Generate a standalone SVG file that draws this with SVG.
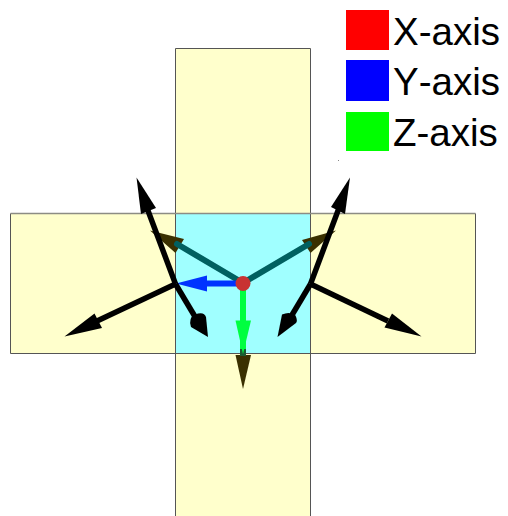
<svg xmlns="http://www.w3.org/2000/svg" width="508" height="516" viewBox="0 0 508 516">
<style>
.face{fill:#ffffcc;stroke:none}
.edge{fill:none;stroke:#555;stroke-width:1}
.k{stroke:#000;stroke-width:5.500;fill:none}
.kh{fill:#000}
.t{stroke:#006060;stroke-width:6;fill:none;stroke-linecap:round}
.o{fill:#3a3000}
.lab{font-family:"Liberation Sans",Arial,sans-serif;font-size:38.500px;font-kerning:none;fill:#000}
</style>
<rect width="508" height="516" fill="#fff"/>
<g id="faces">
<rect class="face" x="175.5" y="48.5" width="135" height="468"/>
<rect class="face" x="10.5" y="213.5" width="465" height="140"/>
<rect x="175.5" y="213.5" width="135" height="140" fill="#a0ffff"/>
<path class="edge" d="M175.500 516V48.500H310.500V516M175.500 353.500H310.500M175.500 213.500V353.500M310.500 213.500V353.500M175.500 353.500H10.500V213.500M310.500 353.500H475.500V213.500"/>
<path d="M10.500 213.500H475.500" fill="none" stroke="#8c8c84" stroke-width="1.500"/>
</g>
<g id="connectors">
<path class="o" d="M150 230.500L184 239L175.500 253Z"/>
<path class="o" d="M336 230.500L302 240L310.500 253Z"/>
<path class="t" d="M243 283L177 244"/>
<path class="t" d="M243 283L309 244"/>
<path class="o" d="M235.500 355H251L243 389Z"/>
<path d="M243 283V356" stroke="#00ff40" stroke-width="6" fill="none"/>
<path d="M243 349V356" stroke="#1a5a30" stroke-width="6" fill="none"/>
<path d="M235.500 320.500H251L243 354Z" fill="#00ff40"/>
<path d="M243 283.500H200" stroke="#0033ff" stroke-width="6" fill="none"/>
<path d="M176 283.500L207 275.500V291.500Z" fill="#0033ff"/>
<path class="k" d="M175.500 284L147 208"/>
<path class="kh" d="M136.500 177.500L156 208L141 214Z"/>
<path class="k" d="M175.500 284L197 320"/>
<path class="kh" d="M208 337L191 327Q188 318 195 314.500Q204 311 206 317Z"/>
<path class="k" d="M175.500 284L97 321"/>
<path class="kh" d="M64.500 336.500L94.500 313.500L102 328Z"/>
<path class="k" d="M310.500 284L339 208"/>
<path class="kh" d="M350 177.500L345 214L331 207Z"/>
<path class="k" d="M310.500 284L289 320"/>
<path class="kh" d="M277.500 337L282 314.500Q290 311 295.500 315.500Q298 321 296 323Z"/>
<path class="k" d="M310.500 284L388 321"/>
<path class="kh" d="M421.500 336.500L384.500 327.500L392 313.500Z"/>
</g>
<g id="origin"><circle cx="243" cy="283.500" r="7.500" fill="#c83232"/></g>
<g id="legend-x"><rect x="346" y="10" width="43" height="40" fill="#f00"/><text class="lab" x="393" y="45">X-axis</text></g>
<g id="legend-y"><rect x="346" y="60" width="43" height="41" fill="#00f"/><text class="lab" x="393" y="95">Y-axis</text></g>
<g id="legend-z"><rect x="346" y="112" width="43" height="39" fill="#0f0"/><text class="lab" x="393" y="146">Z-axis</text></g>
<rect x="338" y="160" width="1" height="1" fill="#888"/>
</svg>
